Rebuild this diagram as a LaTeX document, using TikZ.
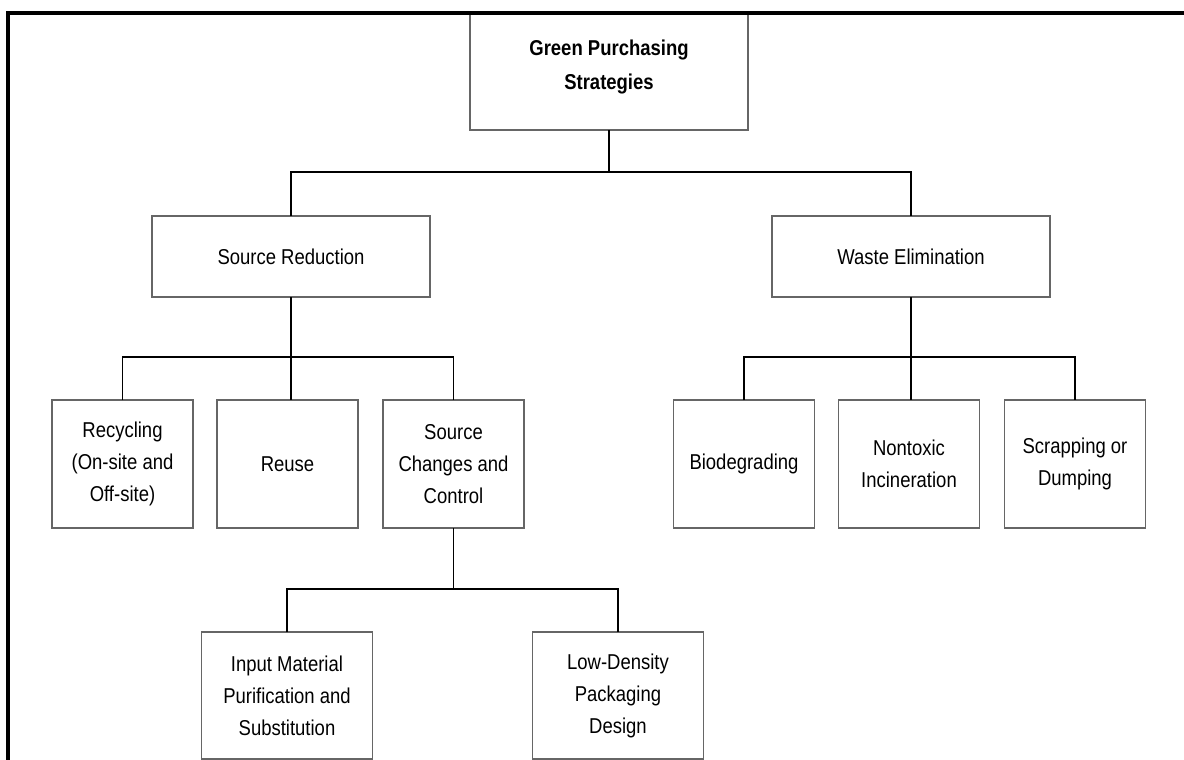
\documentclass[tikz,border=0pt]{standalone}
\usepackage{fontspec}
\setmainfont[FakeStretch=0.86]{Liberation Sans}
\usetikzlibrary{positioning}

\begin{document}
\begin{tikzpicture}[x=1pt,y=-1pt,line width=1.5pt]
  \tikzstyle{box}=[rectangle,draw=black!60,outer sep=0pt,inner sep=0pt,align=center,font=\fontsize{21.5}{32}\selectfont]
  \tikzstyle{wide}=[box,minimum width=278pt,minimum height=81pt]
  \tikzstyle{leaf}=[box,minimum width=141pt,minimum height=128pt]
  \tikzstyle{low}=[box,minimum width=171pt,minimum height=127pt]
  \tikzstyle{link}=[draw=black,line width=1.5pt]
  \useasboundingbox (0,0) rectangle (1184,760);
  % top of the tree
  \node[wide,minimum height=117pt,text depth=14pt,font=\bfseries\fontsize{21.5}{34}\selectfont] (root) at (609,71.5) {Green Purchasing\\Strategies};
  \node[wide] (srcred) [below=86pt of root,xshift=-318pt] {Source Reduction};
  \node[wide] (wasteel) [right=342pt of srcred] {Waste Elimination};
  % second level
  \node[leaf] (recyc) [below=103pt of srcred,xshift=-168.5pt] {Recycling\\(On-site and\\Off-site)};
  \node[leaf] (reuse) [right=24pt of recyc] {Reuse};
  \node[leaf] (srcchg) [right=25pt of reuse] {Source\\Changes and\\Control};
  \node[leaf] (biodeg) [below=103pt of wasteel,xshift=-167pt] {Biodegrading};
  \node[leaf] (nontox) [right=24pt of biodeg] {Nontoxic\\Incineration};
  \node[leaf] (scrap) [right=25pt of nontox] {Scrapping or\\Dumping};
  % third level
  \node[low] (inputmat) [below=104pt of srcchg,xshift=-166.5pt] {Input Material\\Purification and\\Substitution};
  \node[low] (lowdens) [right=160pt of inputmat] {Low-Density\\Packaging\\Design};
  \coordinate (bus1) at (0,172);
  \coordinate (bus2) at (0,357);
  \coordinate (bus3) at (0,589);
  \draw[link] (root.south) -- (root.south |- bus1);
  \draw[link] (srcred.north) |- (wasteel.north |- bus1) -- (wasteel.north);
  \draw[link] (srcred.south) -- (srcred.south |- reuse.north);
  \draw[link] (recyc.north) |- (srcchg.north |- bus2) -- (srcchg.north);
  \draw[link] (wasteel.south) -- (wasteel.south |- nontox.north);
  \draw[link] (biodeg.north) |- (scrap.north |- bus2) -- (scrap.north);
  \draw[link] (srcchg.south) -- (srcchg.south |- bus3);
  \draw[link] (inputmat.north) |- (lowdens.north |- bus3) -- (lowdens.north);
  % frame
  \draw[line width=3.5pt] (1184,13) -- (8,13) -- (8,760);
\end{tikzpicture}
\end{document}
